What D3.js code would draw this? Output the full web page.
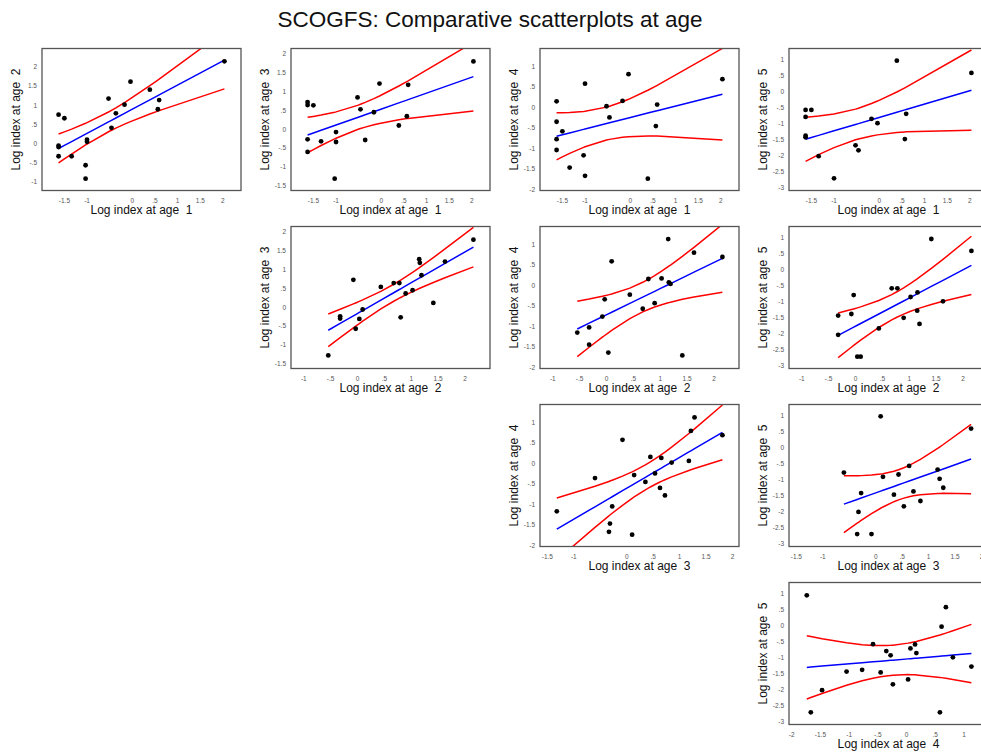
<!DOCTYPE html>
<html>
<head>
<meta charset="utf-8">
<script src="https://cdn.jsdelivr.net/npm/d3@7"></script>
<style>
  body { margin: 0; background: #fff; }
  svg { display: block; font-family: "Liberation Sans", Arial, Helvetica, sans-serif; }
</style>
</head>
<body>
<svg id="chart" width="981" height="753"></svg>
<script>
// Log survey index by age, paired along cohorts: x = index at the younger age,
// y = index at the older age of the same cohort.
const p12x = [-1.618, -1.49, -1.618, -1.618, -1.618, -1.33, -1.022, -1.022, -0.99, -0.99, -0.515, -0.45, -0.353, -0.162, -0.03, 0.397, 0.574, 0.603, 2.044];
const p12y = [0.75, 0.655, -0.06, -0.095, -0.336, -0.336, -0.57, -0.92, 0.095, 0.04, 1.17, 0.405, 0.785, 1.01, 1.61, 1.40, 0.89, 1.13, 2.14];

const p13x = [-1.618, -1.618, -1.49, -1.618, -1.618, -1.32, -1.02, -0.99, -0.99, -0.515, -0.45, -0.346, -0.154, -0.03, 0.397, 0.574, 0.603, 2.044];
const p13y = [0.714, 0.635, 0.626, -0.275, -0.607, -0.327, -1.316, -0.082, -0.345, 0.836, 0.521, -0.292, 0.443, 1.204, 0.093, 0.338, 1.169, 1.79];

const p14x = [-1.618, -1.618, -1.49, -1.618, -1.618, -1.33, -1.022, -0.99, -0.99, -0.515, -0.45, -0.162, -0.03, 0.397, 0.574, 0.603, 2.044];
const p14y = [0.139, -0.36, -0.593, -0.786, -1.05, -1.48, -1.18, -1.68, 0.57, 0.018, -0.255, 0.147, 0.80, -1.75, -0.465, 0.059, 0.68];

const p15x = [-1.618, -1.49, -1.618, -1.618, -1.618, -1.33, -0.99, -0.515, -0.45, -0.162, -0.03, 0.397, 0.574, 0.603, 2.044];
const p15y = [-0.577, -0.577, -0.794, -1.38, -1.43, -2.02, -2.71, -1.68, -1.835, -0.856, -0.99, 0.959, -1.485, -0.70, 0.577];

const p23x = [-0.535, -0.314, -0.314, -0.068, -0.025, 0.043, 0.105, 0.443, 0.683, 0.788, 0.812, 0.905, 1.034, 1.157, 1.169, 1.2, 1.42, 1.637, 2.166];
const p23y = [-1.284, -0.247, -0.308, 0.72, -0.576, -0.316, -0.066, 0.531, 0.634, 0.634, -0.273, 0.357, 0.444, 1.265, 1.17, 0.841, 0.107, 1.204, 1.784];

const p24x = [-0.535, -0.314, -0.314, -0.068, -0.025, 0.043, 0.105, 0.443, 0.683, 0.788, 0.905, 1.034, 1.157, 1.169, 1.2, 1.42, 1.637, 2.166];
const p24y = [-1.163, -1.035, -1.458, -0.772, -0.349, -1.65, 0.577, -0.237, -0.58, 0.146, -0.445, 0.16, 1.12, 0.066, 0.026, -1.72, 0.79, 0.683];

const p25x = [-0.314, -0.314, -0.068, -0.025, 0.043, 0.105, 0.443, 0.683, 0.788, 0.905, 1.034, 1.163, 1.157, 1.2, 1.42, 1.637, 2.166];
const p25y = [-1.44, -2.04, -1.39, -0.80, -2.72, -2.72, -1.84, -0.59, -0.59, -1.51, -0.86, -0.716, -1.286, -1.70, 0.948, -0.995, 0.576];

const p34x = [-1.312, -0.59, -0.265, -0.307, -0.326, -0.07, 0.112, 0.15, 0.363, 0.457, 0.545, 0.639, 0.664, 0.733, 0.859, 1.185, 1.223, 1.292, 1.819];
const p34y = [-1.18, -0.368, -1.06, -1.478, -1.68, 0.566, -1.75, -0.294, -0.463, 0.147, -0.255, -0.608, 0.123, -0.793, 0.01, 0.05, 0.783, 1.113, 0.678];

const p35x = [-0.592, -0.266, -0.316, -0.341, -0.07, 0.103, 0.147, 0.354, 0.441, 0.542, 0.642, 0.723, 0.855, 1.18, 1.218, 1.287, 1.813];
const p35y = [-0.784, -1.423, -2.01, -2.70, -2.70, 0.969, -0.918, -1.474, -0.845, -1.835, -0.577, -1.371, -1.67, -0.69, -0.98, -1.258, 0.588];

const p45x = [-1.729, -1.659, -1.463, -1.036, -0.765, -0.575, -0.442, -0.344, -0.269, -0.229, 0.036, 0.077, 0.157, 0.18, 0.59, 0.619, 0.694, 0.816, 1.139];
const p45y = [0.938, -2.71, -2.02, -1.44, -1.385, -0.584, -1.466, -0.80, -0.933, -1.838, -1.684, -0.718, -0.594, -0.861, -2.71, -0.039, 0.568, -0.995, -1.283];

// Tick values printed on each age's axis
const xTicksAge1 = [-1.5, -1, 0, 0.5, 1, 1.5, 2];
const xTicksAge2 = [-1, -0.5, 0, 0.5, 1, 1.5, 2];
const xTicksAge3 = [-1.5, -1, 0, 0.5, 1, 1.5, 2];
const xTicksAge4 = [-2, -1.5, -1, -0.5, 0, 0.5, 1];
const yTicksAge2 = [-1, -0.5, 0, 0.5, 1, 1.5, 2];
const yTicksAge3 = [-1.5, -1, -0.5, 0, 0.5, 1, 1.5, 2];
const yTicksAge4 = [-2, -1.5, -1, -0.5, 0, 0.5, 1];
const yTicksAge5 = [-3, -2.5, -2, -1.5, -1, -0.5, 0, 0.5, 1];

const titleText = "SCOGFS: Comparative scatterplots at age";
const axisTitle = a => `Log index at age  ${a}`;

const panels = [
  { xa: 1, ya: 2, x: p12x, y: p12y }, { xa: 1, ya: 3, x: p13x, y: p13y },
  { xa: 1, ya: 4, x: p14x, y: p14y }, { xa: 1, ya: 5, x: p15x, y: p15y },
  { xa: 2, ya: 3, x: p23x, y: p23y }, { xa: 2, ya: 4, x: p24x, y: p24y },
  { xa: 2, ya: 5, x: p25x, y: p25y },
  { xa: 3, ya: 4, x: p34x, y: p34y }, { xa: 3, ya: 5, x: p35x, y: p35y },
  { xa: 4, ya: 5, x: p45x, y: p45y }
];
const xTicks = { 1: xTicksAge1, 2: xTicksAge2, 3: xTicksAge3, 4: xTicksAge4 };
const yTicks = { 2: yTicksAge2, 3: yTicksAge3, 4: yTicksAge4, 5: yTicksAge5 };

// Each age uses one range everywhere: all of its values, padded by 10% each side.
const domainFor = age => {
  const vals = [];
  panels.forEach(p => {
    if (p.xa === age) vals.push(...p.x);
    if (p.ya === age) vals.push(...p.y);
  });
  const [lo, hi] = d3.extent(vals);
  const pad = (hi - lo) * 0.1;
  return [lo - pad, hi + pad];
};

// Student t quantile (two-sided 95%) via Cornish-Fisher expansion
function tQuantile(df) {
  const z = 1.959964;
  const z3 = z ** 3, z5 = z ** 5, z7 = z ** 7;
  return z + (z3 + z) / (4 * df) + (5 * z5 + 16 * z3 + 3 * z) / (96 * df * df)
    + (3 * z7 + 19 * z5 + 17 * z3 - 15 * z) / (384 * df ** 3);
}

// OLS fit with 95% confidence band for the mean
function olsFit(xs, ys) {
  const n = xs.length;
  const mx = d3.mean(xs), my = d3.mean(ys);
  let sxx = 0, sxy = 0;
  xs.forEach((x, i) => { sxx += (x - mx) ** 2; sxy += (x - mx) * (ys[i] - my); });
  const b = sxy / sxx, a = my - b * mx;
  let sse = 0;
  xs.forEach((x, i) => { sse += (ys[i] - a - b * x) ** 2; });
  const s2 = sse / (n - 2), t = tQuantile(n - 2);
  const grid = Array.from(new Set(xs)).sort((u, v) => u - v);
  return grid.map(x => {
    const yh = a + b * x;
    const h = t * Math.sqrt(s2 * (1 / n + (x - mx) ** 2 / sxx));
    return { x, yh, lo: yh - h, hi: yh + h };
  });
}

const svg = d3.select("#chart");
const W = 199, H = 142;
const colLeft = c => 42 + 249 * c;
const rowTop = r => 48.5 + 178 * r;
const fmt = v => String(v).replace("0.", ".");

svg.append("text")
  .attr("x", 490).attr("y", 27)
  .attr("text-anchor", "middle")
  .attr("font-size", 22.5)
  .attr("fill", "#111")
  .text(titleText);

panels.forEach((p, k) => {
  const col = p.ya - 2, row = p.xa - 1;
  const left = colLeft(col), top = rowTop(row);
  const g = svg.append("g").attr("transform", `translate(${left},${top})`);

  const xs = d3.scaleLinear().domain(domainFor(p.xa)).range([0, W]);
  const ys = d3.scaleLinear().domain(domainFor(p.ya)).range([H, 0]);

  const clipId = `clip${k}`;
  g.append("clipPath").attr("id", clipId)
    .append("rect").attr("width", W).attr("height", H);

  // tick labels only, no tick marks
  const xAxis = d3.axisBottom(xs).tickValues(xTicks[p.xa]).tickFormat(fmt).tickSize(0).tickPadding(8);
  const yAxis = d3.axisLeft(ys).tickValues(yTicks[p.ya]).tickFormat(fmt).tickSize(0).tickPadding(5);
  [g.append("g").attr("transform", `translate(0,${H})`).call(xAxis),
   g.append("g").call(yAxis)].forEach(ax => {
    ax.select(".domain").remove();
    ax.selectAll("text").attr("font-size", 6.5).attr("fill", "#555")
      .attr("font-family", "'Liberation Sans', Arial, sans-serif");
  });

  const fit = olsFit(p.x, p.y);
  const plot = g.append("g").attr("clip-path", `url(#${clipId})`);
  const line = key => d3.line().x(d => xs(d.x)).y(d => ys(d[key]));
  plot.append("path").datum(fit).attr("d", line("hi"))
    .attr("fill", "none").attr("stroke", "#ff0000").attr("stroke-width", 1.5);
  plot.append("path").datum(fit).attr("d", line("lo"))
    .attr("fill", "none").attr("stroke", "#ff0000").attr("stroke-width", 1.5);
  plot.append("path").datum(fit).attr("d", line("yh"))
    .attr("fill", "none").attr("stroke", "#0000ff").attr("stroke-width", 1.5);

  plot.selectAll("circle").data(p.x.map((x, i) => [x, p.y[i]])).join("circle")
    .attr("cx", d => xs(d[0])).attr("cy", d => ys(d[1])).attr("r", 2.4)
    .attr("fill", "#000");

  g.append("rect").attr("width", W).attr("height", H)
    .attr("fill", "none").attr("stroke", "#555").attr("stroke-width", 1.3);

  g.append("text")
    .attr("x", W / 2).attr("y", H + 23)
    .attr("text-anchor", "middle").attr("font-size", 12).attr("fill", "#111")
    .style("white-space", "pre")
    .text(axisTitle(p.xa));
  g.append("text")
    .attr("transform", `translate(-22,${H / 2}) rotate(-90)`)
    .attr("text-anchor", "middle").attr("font-size", 12).attr("fill", "#111")
    .style("white-space", "pre")
    .text(axisTitle(p.ya));
});
</script>
</body>
</html>
